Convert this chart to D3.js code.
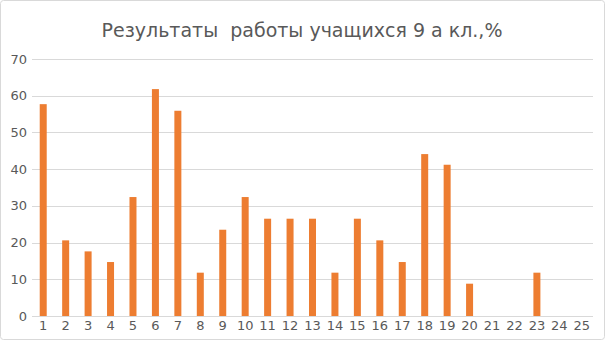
<!DOCTYPE html>
<html>
<head>
<meta charset="utf-8">
<script src="https://cdn.jsdelivr.net/npm/d3@7"></script>
<style>
  body { margin: 0; background: #fff; }
  svg { display: block; font-family: "DejaVu Sans", sans-serif; }
</style>
</head>
<body>
<svg width="605" height="340"></svg>
<script>
// Data
const categories = d3.range(1, 26).map(String);
const values = [57.7, 20.6, 17.6, 14.7, 32.4, 61.8, 55.9, 11.8, 23.5, 32.4,
                26.5, 26.5, 26.5, 11.8, 26.5, 20.6, 14.7, 44.1, 41.2, 8.8,
                0, 0, 11.8, 0, 0];
const yTicks = [0, 10, 20, 30, 40, 50, 60, 70];
const title = "Результаты  работы учащихся 9 а кл.,%";

const svg = d3.select("svg");
const margin = { top: 59, right: 12, bottom: 24, left: 32 };
const width = 605, height = 340;

// outer chart border
svg.append("rect")
  .attr("x", 0.5).attr("y", 0.5)
  .attr("width", width - 1).attr("height", height - 1)
  .attr("rx", 3)
  .attr("fill", "#fff")
  .attr("stroke", "#d9d9d9");

svg.append("text")
  .attr("x", 302)
  .attr("y", 37)
  .attr("text-anchor", "middle")
  .attr("fill", "#595959")
  .style("font-size", "19px")
  .style("white-space", "pre")
  .text(title);

const x = d3.scaleBand()
  .domain(categories)
  .range([margin.left, width - margin.right]);

const y = d3.scaleLinear()
  .domain([0, 70])
  .range([height - margin.bottom, margin.top]);

// gridlines
svg.append("g")
  .selectAll("line")
  .data(yTicks)
  .join("line")
  .attr("x1", margin.left)
  .attr("x2", width - margin.right)
  .attr("y1", d => Math.round(y(d)) + 0.5)
  .attr("y2", d => Math.round(y(d)) + 0.5)
  .attr("stroke", "#d9d9d9");

// y labels
svg.append("g")
  .selectAll("text")
  .data(yTicks)
  .join("text")
  .attr("x", 27)
  .attr("y", d => y(d))
  .attr("dy", "0.35em")
  .attr("text-anchor", "end")
  .attr("fill", "#595959")
  .style("font-size", "13px")
  .text(d => d);

// bars
const barW = 7;
svg.append("g")
  .selectAll("rect")
  .data(values)
  .join("rect")
  .attr("x", (d, i) => x(categories[i]) + x.bandwidth() / 2 - barW / 2)
  .attr("y", d => y(d))
  .attr("width", barW)
  .attr("height", d => y(0) - y(d))
  .attr("fill", "#ED7D31");

// x labels
svg.append("g")
  .selectAll("text")
  .data(categories)
  .join("text")
  .attr("x", d => x(d) + x.bandwidth() / 2)
  .attr("y", 330)
  .attr("text-anchor", "middle")
  .attr("fill", "#595959")
  .style("font-size", "13px")
  .text(d => d);
</script>
</body>
</html>
